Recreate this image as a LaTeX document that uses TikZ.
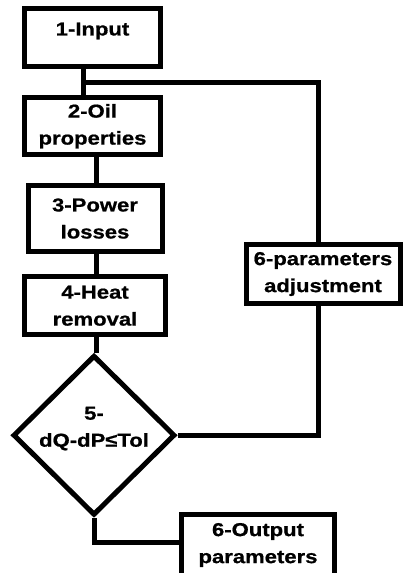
\documentclass[tikz,border=0pt]{standalone}
\usepackage{fontspec}
\setmainfont{Liberation Sans}[FakeStretch=1.18,BoldFeatures={FakeBold=0.8}]
\usepackage{tikz}
\usetikzlibrary{positioning,shapes.geometric,calc}
\newcommand{\flowfont}{\fontsize{18.7pt}{27pt}\selectfont\bfseries}

\begin{document}
\begin{tikzpicture}[
  node distance=26pt,
  box/.style={draw=black,line width=5pt,fill=white,minimum width=136pt,
              minimum height=58pt,align=center,inner sep=2pt,font=\flowfont},
  dec/.style={diamond,draw=black,line width=5pt,minimum width=162pt,
              minimum height=160pt,inner sep=-14pt,align=center,font=\flowfont},
  link/.style={line width=5pt,draw=black}
]
\useasboundingbox (0,0) rectangle (402pt,-573pt);
\node[box,minimum height=58.5pt] (inp) at (92.5pt,-37.5pt) {1-Input\\[-10pt]\mbox{}};
\node[box,below=of inp,minimum height=57pt] (oil) {2-Oil\\properties};
\node[box,below=of oil,xshift=2.5pt,minimum width=134pt,minimum height=65.5pt] (loss) {3-Power\\losses};
\node[box,below=20.5pt of loss,minimum width=141.5pt] (heat) {4-Heat\\removal};
\node[dec,below=15.5pt of heat,xshift=-1pt] (check) {5-\\dQ-dP≤Tol\\[-10pt]\mbox{}};
\node[box,minimum width=154pt,minimum height=59.5pt] (adj) at (323pt,-274pt) {6-parameters\\adjustment};
\node[box,minimum width=152.5pt,minimum height=62pt] (res) at (258pt,-545pt) {6-Output\\parameters};
\draw[link] ([xshift=-9pt]inp.south) -- ([xshift=-9pt]oil.north);
\draw[link] ([xshift=3.5pt]oil.south) -- ([xshift=1pt]loss.north);
\draw[link] ([xshift=1pt]loss.south) -- ([xshift=1pt]heat.north);
\draw[link] ([xshift=1pt]heat.south) -- ([xshift=1pt]heat.south |- check.north);
% loop back to the parameters
\coordinate (split) at ($([xshift=-9pt]inp.south)!0.5!([xshift=-9pt]oil.north)$);
\draw[link] (split) -| ([xshift=-5pt]adj.north);
\draw[link] ([xshift=-5pt]adj.south) |- (check.east);
\draw[link] (check.south) |- ([yshift=3pt]res.west);
\end{tikzpicture}
\end{document}
